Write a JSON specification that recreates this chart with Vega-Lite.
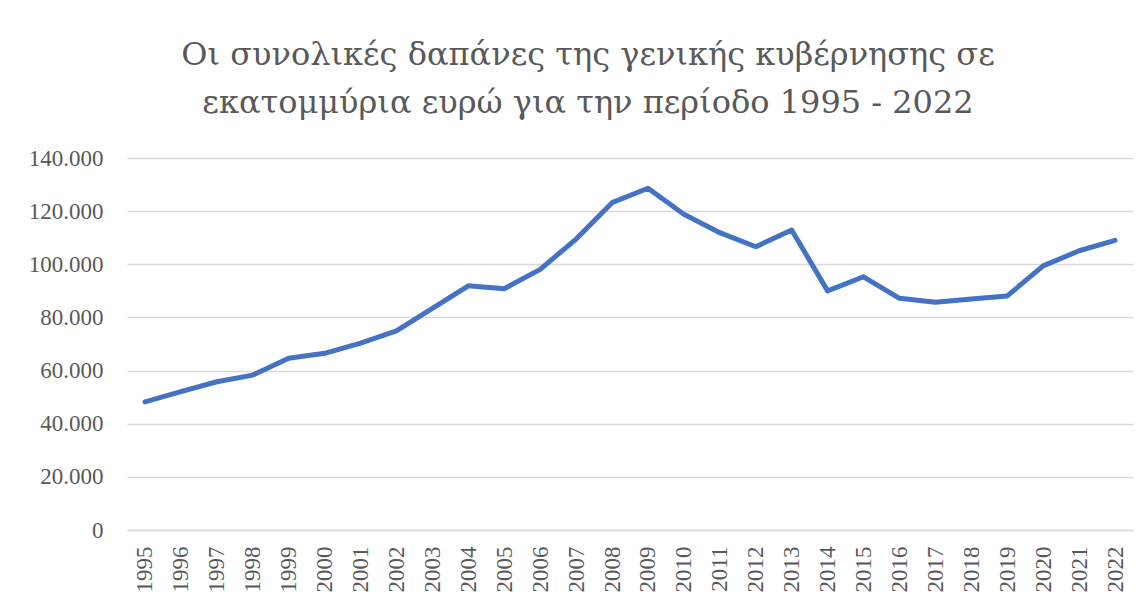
{
  "$schema": "https://vega.github.io/schema/vega-lite/v6.json",
  "autosize": {"type": "none"},
  "padding": {"left": 127, "top": 158, "right": 15, "bottom": 74},
  "width": 1006,
  "height": 372,
  "background": "white",
  "title": {
    "text": ["Οι συνολικές δαπάνες της γενικής κυβέρνησης σε", "εκατομμύρια ευρώ για την περίοδο 1995 - 2022"],
    "font": "DejaVu Serif",
    "fontSize": 32,
    "fontWeight": "normal",
    "color": "#595959",
    "anchor": "middle",
    "dx": -42,
    "offset": 27,
    "lineHeight": 48
  },
  "data": {
    "values": [
      {"year": "1995", "value": 48200},
      {"year": "1996", "value": 52100},
      {"year": "1997", "value": 55800},
      {"year": "1998", "value": 58300},
      {"year": "1999", "value": 64600},
      {"year": "2000", "value": 66500},
      {"year": "2001", "value": 70300},
      {"year": "2002", "value": 74900},
      {"year": "2003", "value": 83400},
      {"year": "2004", "value": 91900},
      {"year": "2005", "value": 90800},
      {"year": "2006", "value": 98100},
      {"year": "2007", "value": 109500},
      {"year": "2008", "value": 123200},
      {"year": "2009", "value": 128600},
      {"year": "2010", "value": 118800},
      {"year": "2011", "value": 111900},
      {"year": "2012", "value": 106600},
      {"year": "2013", "value": 112900},
      {"year": "2014", "value": 90000},
      {"year": "2015", "value": 95300},
      {"year": "2016", "value": 87200},
      {"year": "2017", "value": 85700},
      {"year": "2018", "value": 86900},
      {"year": "2019", "value": 88100},
      {"year": "2020", "value": 99400},
      {"year": "2021", "value": 105100},
      {"year": "2022", "value": 109000}
    ]
  },
  "mark": {"type": "line", "color": "#4472C4", "strokeWidth": 5, "strokeCap": "round", "strokeJoin": "round"},
  "encoding": {
    "x": {
      "field": "year",
      "type": "ordinal",
      "scale": {"type": "point", "padding": 0.5},
      "axis": {
        "title": null,
        "labelAngle": -90,
        "labelFont": "Liberation Serif",
        "labelFontSize": 23,
        "labelColor": "#595959",
        "labelPadding": 16,
        "ticks": false,
        "domain": true,
        "domainColor": "#D9D9D9",
        "domainWidth": 1.5,
        "grid": false
      }
    },
    "y": {
      "field": "value",
      "type": "quantitative",
      "scale": {"domain": [0, 140000], "nice": false},
      "axis": {
        "title": null,
        "values": [0, 20000, 40000, 60000, 80000, 100000, 120000, 140000],
        "labelExpr": "replace(format(datum.value, ','), ',', '.')",
        "labelFont": "Liberation Serif",
        "labelFontSize": 23,
        "labelColor": "#595959",
        "labelPadding": 24,
        "ticks": false,
        "domain": false,
        "grid": true,
        "gridColor": "#D9D9D9",
        "gridWidth": 1.5
      }
    }
  },
  "config": {"view": {"stroke": null}}
}
